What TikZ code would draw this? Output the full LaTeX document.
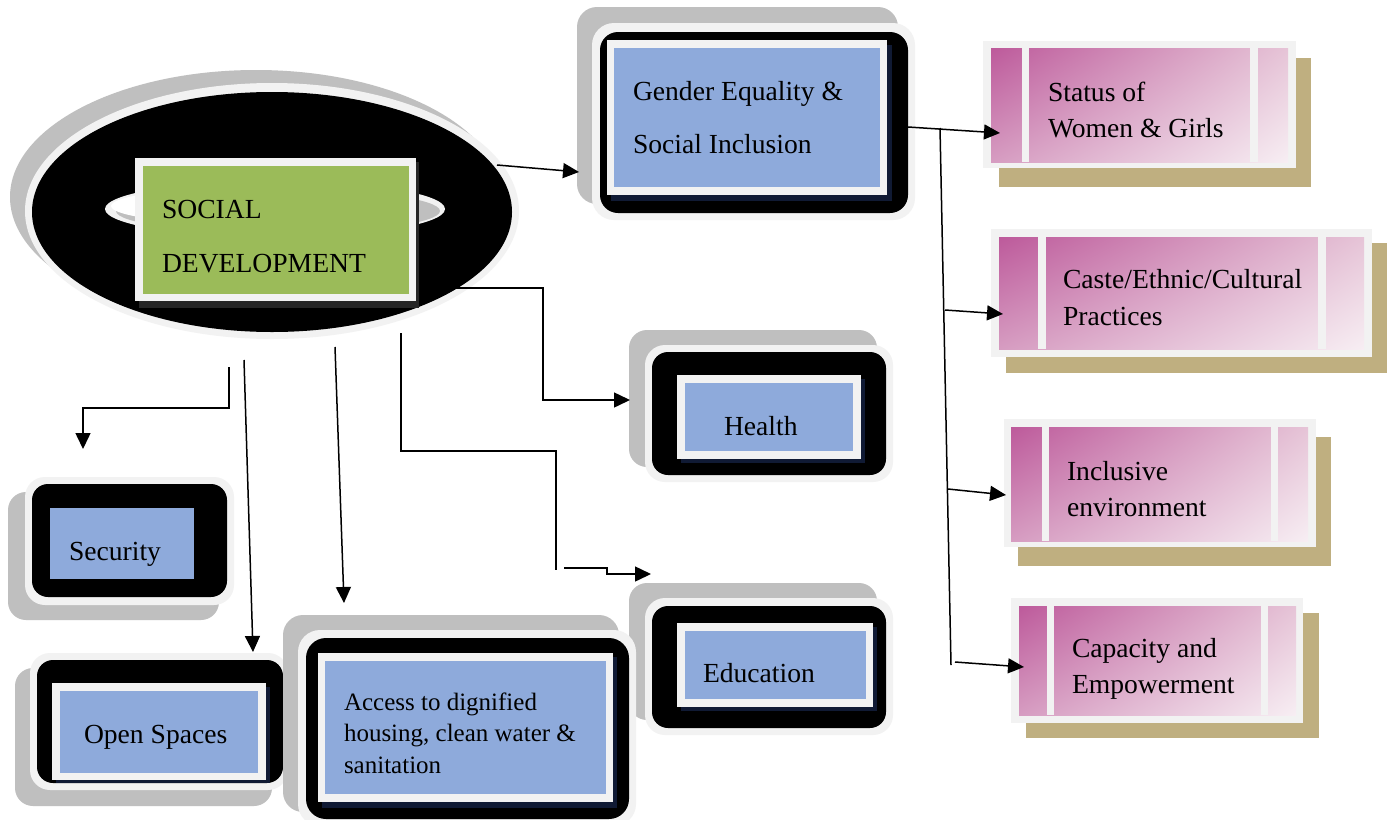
\documentclass[tikz,border=0pt]{standalone}
\usepackage{fontspec}
\setmainfont{Liberation Serif}
\usetikzlibrary{arrows.meta,shadings}
\definecolor{blueF}{RGB}{142,170,219}
\definecolor{greenF}{RGB}{155,187,89}
\definecolor{lightG}{RGB}{242,242,242}
\definecolor{shadowG}{RGB}{191,191,191}
\definecolor{navyS}{RGB}{16,26,52}
\definecolor{darkS}{RGB}{38,38,38}
\definecolor{tanS}{RGB}{191,175,128}
\definecolor{pinkD}{RGB}{189,90,155}
\definecolor{pinkUR}{RGB}{230,196,215}
\definecolor{pinkLL}{RGB}{214,156,193}
\definecolor{pinkLR}{RGB}{247,238,243}
\newcommand{\mylines}[3]{\fontsize{#1}{#2}\selectfont\begin{tabular}[t]{@{}l@{}}#3\end{tabular}}
\tikzset{
  conn/.style={line width=1.5pt, draw=black},
  arr/.style={conn, -{Triangle[length=16pt,width=15pt]}},
  txt/.style={anchor=base west, inner sep=0pt, outer sep=0pt, text=black},
  bluebox/.style={fill=blueF, inner sep=0pt, outer sep=0pt},
  pinkbox/.style={inner sep=0pt, outer sep=0pt},
  pinkshade/.style={upper left=pinkD, upper right=pinkUR, lower left=pinkLL, lower right=pinkLR},
}
\begin{document}
\begin{tikzpicture}[x=1pt,y=-1pt]
\useasboundingbox (0,0) rectangle (1388,819);
\clip (0,0) rectangle (1388,819);
\fill[white] (0,0) rectangle (1388,819);

% ---------- central ellipse ----------
\fill[shadowG] (256,197) ellipse [x radius=246, y radius=127];
\fill[lightG] (272,211) ellipse [x radius=247, y radius=128];
\fill[black] (272,212) ellipse [x radius=240, y radius=120];
\fill[lightG] (275,209) ellipse [x radius=170, y radius=28];
\fill[shadowG] (278,211) ellipse [x radius=162, y radius=22];
\fill[white] (262,206) ellipse [x radius=151, y radius=19];
\fill[darkS] (139,162) rectangle (419,308);
\fill[lightG] (135,158) rectangle (416,301);
\node[fill=greenF, inner sep=0pt, minimum width=266pt, minimum height=128pt] (sd) at (276,230) {};
\node[txt] (sdt) at (162,218) {\mylines{27.6}{54}{SOCIAL\\DEVELOPMENT}};

% ---------- Gender Equality ----------
\fill[shadowG, rounded corners=20pt] (577,7) rectangle (898,204);
\fill[lightG, rounded corners=22pt] (592,23) rectangle (915,220);
\fill[black, rounded corners=18pt] (600,32) rectangle (908,213);
\fill[navyS] (611,45) rectangle (892,201);
\fill[lightG] (607,40) rectangle (887,195);
\node[bluebox, minimum width=266pt, minimum height=139pt] (gesi) at (747,117.5) {};
\node[txt] (gesit) at (633,100) {\mylines{27.6}{53}{Gender Equality \&\\Social Inclusion}};

% ---------- Health ----------
\fill[shadowG, rounded corners=18pt] (629,330) rectangle (877,467);
\fill[lightG, rounded corners=20pt] (645,345) rectangle (893,482);
\fill[black, rounded corners=16pt] (652,352) rectangle (886,475);
\fill[navyS] (681,379) rectangle (865,463);
\fill[lightG] (677,375) rectangle (861,459);
\node[bluebox, minimum width=168pt, minimum height=68pt] (health) at (769,417) {};
\node[txt] (healtht) at (724,435) {\fontsize{27.6}{33}\selectfont Health};

% ---------- Education ----------
\fill[shadowG, rounded corners=18pt] (629,583) rectangle (877,720);
\fill[lightG, rounded corners=20pt] (645,598) rectangle (893,735);
\fill[black, rounded corners=16pt] (652,606) rectangle (886,728);
\fill[navyS] (681,627) rectangle (877,711);
\fill[lightG] (677,623) rectangle (873,707);
\node[bluebox, minimum width=181pt, minimum height=68pt] (edu) at (775.5,665) {};
\node[txt] (edut) at (703,682) {\fontsize{27.6}{33}\selectfont Education};

% ---------- Security ----------
\fill[shadowG, rounded corners=18pt] (8,492) rectangle (219,620);
\fill[lightG, rounded corners=20pt] (25,477) rectangle (234,605);
\fill[black, rounded corners=16pt] (32,484) rectangle (227,597);
\node[bluebox, minimum width=144pt, minimum height=71pt] (sec) at (122,543.5) {};
\node[txt] (sect) at (69,560) {\fontsize{27.6}{33}\selectfont Security};

% ---------- Open Spaces ----------
\fill[shadowG, rounded corners=18pt] (15,668) rectangle (272,806);
\fill[lightG, rounded corners=20pt] (30,653) rectangle (288,790);
\fill[black, rounded corners=16pt] (37,660) rectangle (283,783);
\fill[navyS] (56,687) rectangle (270,783);
\fill[lightG] (52,683) rectangle (266,780);
\node[bluebox, minimum width=198pt, minimum height=82pt] (open) at (159,732) {};
\node[txt] (opent) at (84,743) {\fontsize{27.6}{33}\selectfont Open Spaces};

% ---------- Access ----------
\fill[shadowG, rounded corners=20pt] (283,615) rectangle (619,812);
\fill[lightG, rounded corners=22pt] (298,630) rectangle (636,826);
\fill[black, rounded corners=20pt] (306,638) rectangle (629,819);
\fill[navyS] (322,657) rectangle (617,808);
\fill[lightG] (318,653) rectangle (613,802);
\node[bluebox, minimum width=281pt, minimum height=133pt] (acc) at (465.5,727.5) {};
\node[txt] (acct) at (344,710) {\mylines{25}{31.5}{Access to dignified\\housing, clean water \&\\sanitation}};

% ---------- pink boxes ----------
% Status
\fill[tanS] (999,58) rectangle (1311,187);
\fill[lightG] (983,41) rectangle (1296,168);
\shade[pinkshade] (991,48) rectangle (1288,162);
\fill[lightG] (1022,48) rectangle (1029,162);
\fill[lightG] (1250,48) rectangle (1258,162);
\node[pinkbox, minimum width=221pt, minimum height=114pt] (st) at (1139.5,105) {};
\node[txt] (stt) at (1048,101) {\mylines{27.6}{36}{Status of\\Women \& Girls}};
% Caste
\fill[tanS] (1006,243) rectangle (1387,373);
\fill[lightG] (991,229) rectangle (1372,357);
\shade[pinkshade] (999,237) rectangle (1364,349);
\fill[lightG] (1038,237) rectangle (1046,349);
\fill[lightG] (1318,237) rectangle (1326,349);
\node[pinkbox, minimum width=272pt, minimum height=112pt] (ca) at (1182,293) {};
\node[txt] (cat) at (1063,288) {\mylines{27.6}{37}{Caste/Ethnic/Cultural\\Practices}};
% Inclusive
\fill[tanS] (1018,437) rectangle (1331,566);
\fill[lightG] (1004,419) rectangle (1316,547);
\shade[pinkshade] (1011,427) rectangle (1308,541);
\fill[lightG] (1042,427) rectangle (1049,541);
\fill[lightG] (1271,427) rectangle (1278,541);
\node[pinkbox, minimum width=222pt, minimum height=114pt] (inc) at (1160,484) {};
\node[txt] (inct) at (1067,480) {\mylines{27.6}{36}{Inclusive\\environment}};
% Capacity
\fill[tanS] (1026,613) rectangle (1319,738);
\fill[lightG] (1011,598) rectangle (1303,723);
\shade[pinkshade] (1019,606) rectangle (1296,715);
\fill[lightG] (1047,606) rectangle (1054,715);
\fill[lightG] (1261,606) rectangle (1268,715);
\node[pinkbox, minimum width=207pt, minimum height=109pt] (cap) at (1157.5,660.5) {};
\node[txt] (capt) at (1072,657) {\mylines{27.6}{36}{Capacity and\\Empowerment}};

% ---------- connector coordinates ----------
\coordinate (sdA) at (497,165);   \coordinate (gesiIn) at (579,172);
\coordinate (gesiOut) at (908,127); \coordinate (stIn) at (1000,133);
\coordinate (busTop) at (940,128); \coordinate (busBot) at (951,665);
\coordinate (caFrom) at (945,310);  \coordinate (caIn) at (1003,314);
\coordinate (incFrom) at (948,489); \coordinate (incIn) at (1006,495);
\coordinate (capFrom) at (955,662); \coordinate (capIn) at (1024,667);
\coordinate (sdH) at (455,288); \coordinate (hB1) at (543,288); \coordinate (hB2) at (543,400); \coordinate (healthIn) at (630,400);
\coordinate (sdE) at (401,333); \coordinate (eB1) at (401,451); \coordinate (eB2) at (556,451); \coordinate (eB3) at (556,570);
\coordinate (eB4) at (564,568); \coordinate (eB5) at (607,568); \coordinate (eB6) at (607,574); \coordinate (eduIn) at (651,574);
\coordinate (sdS) at (229,367); \coordinate (sB1) at (229,408); \coordinate (sB2) at (83,408); \coordinate (secIn) at (83,449);
\coordinate (sdO) at (244,360); \coordinate (openIn) at (253,652);
\coordinate (sdAc) at (335,347); \coordinate (accIn) at (344,603);

% ---------- connectors ----------
\draw[arr] (sdA) -- (gesiIn);
\draw[arr] (gesiOut) -- (stIn);
\draw[conn] (busTop) -- (busBot);
\draw[arr] (caFrom) -- (caIn);
\draw[arr] (incFrom) -- (incIn);
\draw[arr] (capFrom) -- (capIn);
\draw[arr] (sdH) -- (hB1) -- (hB2) -- (healthIn);
\draw[conn] (sdE) -- (eB1) -- (eB2) -- (eB3);
\draw[arr] (eB4) -- (eB5) -- (eB6) -- (eduIn);
\draw[arr] (sdS) -- (sB1) -- (sB2) -- (secIn);
\draw[arr] (sdO) -- (openIn);
\draw[arr] (sdAc) -- (accIn);
\end{tikzpicture}
\end{document}
